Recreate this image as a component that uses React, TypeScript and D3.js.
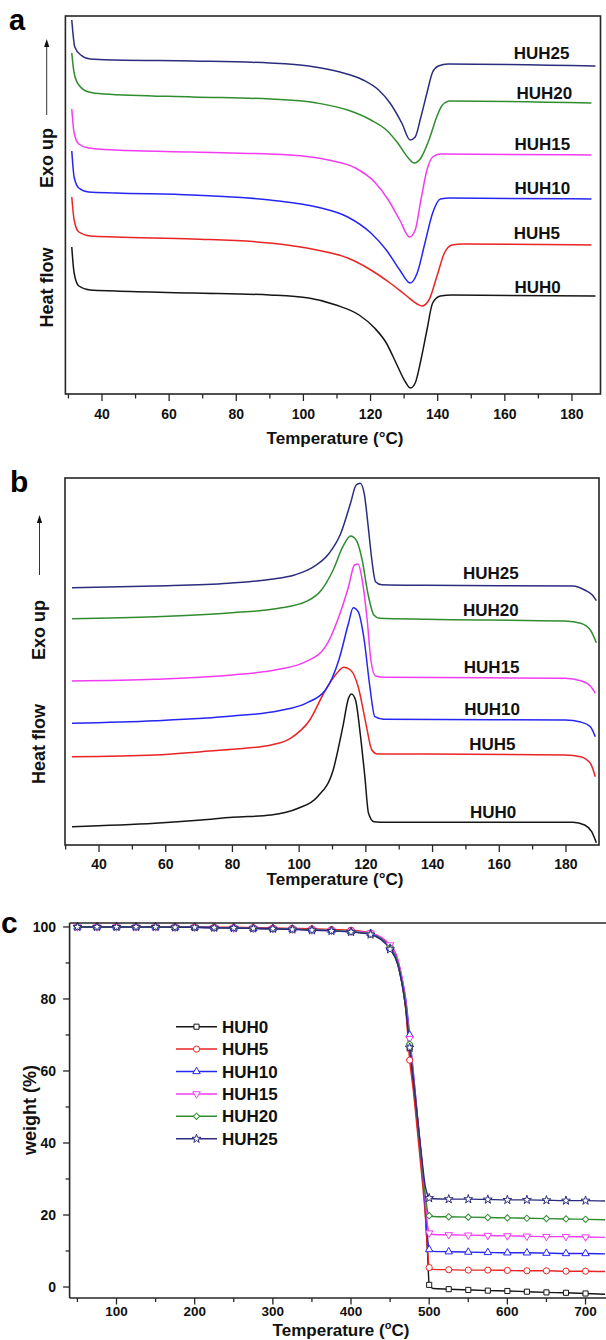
import React from "react";
import * as d3 from "d3";

const FONT = "'Liberation Sans', Arial, Helvetica, sans-serif";

// ---------- shared ----------
const seriesNames = ["HUH0", "HUH5", "HUH10", "HUH15", "HUH20", "HUH25"];
const COLORS = ["#161616", "#ea2424", "#2626f2", "#f23cf2", "#2f8c2f", "#2c2c7e"];

// ---------- panel a : DSC heating (melting), a.u. ----------
const meltT_HUH0 = [31, 31.7, 33.1, 36.5, 44, 67, 90, 101.6, 109.7, 116.6, 121.2, 124.7, 127.6, 130.4, 131.9, 133.3, 135, 136.8, 138.5, 140.8, 144.3, 187];
const meltHF_HUH0 = [147, 121, 108, 104, 103, 101, 99, 96, 89, 79, 66, 51, 31, 12, 6, 11, 34, 64, 91, 98, 99, 98];
const meltT_HUH5 = [31, 31.7, 33.1, 36.5, 44, 67, 90, 104, 113.2, 120.1, 125.8, 130.4, 133.9, 135.3, 137.4, 139.7, 142, 144.3, 147.7, 185.8];
const meltHF_HUH5 = [197, 174, 162, 158, 157, 155, 151, 144, 136, 124, 111, 99, 90, 88, 94, 117, 141, 149, 150, 149];
const meltT_HUH10 = [31, 31.7, 33.1, 36, 44, 67, 90, 104, 113.2, 120.1, 124.7, 128.7, 131.8, 133.9, 136.2, 138.5, 140.8, 143.7, 185.8];
const meltHF_HUH10 = [243, 217, 206, 202, 201, 199, 194, 187, 177, 161, 144, 124, 111, 121, 151, 181, 195, 196, 195];
const meltT_HUH15 = [31, 31.7, 33.1, 36, 44, 67, 95.9, 107.4, 115.5, 121.2, 125.3, 128.7, 131.6, 133.3, 135, 136.8, 138.5, 140.8, 185.8];
const meltHF_HUH15 = [285, 261, 250, 246, 244, 242, 239, 234, 226, 212, 194, 174, 157, 164, 194, 224, 237, 240, 239];
const meltT_HUH20 = [31, 31.7, 33.1, 36, 40.6, 67, 90, 104, 113.2, 120.1, 124.7, 128.1, 131, 133, 135, 137.4, 139.7, 141.4, 143.7, 185.8];
const meltHF_HUH20 = [341, 321, 309, 302, 300, 297, 295, 291, 284, 274, 264, 251, 237, 231, 236, 254, 277, 289, 293, 291];
const meltT_HUH25 = [31.0, 31.9, 33.7, 36.5, 44, 67, 90, 101.6, 110.9, 117.8, 122.4, 125.8, 129.3, 131.8, 133.3, 135.0, 136.8, 138.5, 140.2, 143.1, 187];
const meltHF_HUH25 = [374, 347, 339, 335, 334, 333, 331, 328, 322, 314, 304, 291, 271, 254, 257, 277, 301, 322, 328, 330, 328];

// ---------- panel b : DSC cooling (crystallisation), a.u. ----------
const crysT_HUH0 = [31.9, 56.8, 70.7, 80, 91.6, 99.7, 105.5, 110.2, 113.1, 114.8, 115.7, 116.9, 118.3, 119.7, 120.8, 122.4, 126.4, 182.1, 185.6, 187.7, 189.1];
const crysHF_HUH0 = [18.3, 21.7, 25, 27.7, 30, 36.7, 48.3, 75, 118.3, 146.7, 151, 145, 111.7, 68.3, 31.7, 23.3, 22.7, 22.7, 20, 13.3, 2.3];
const crysT_HUH5 = [31.9, 56.8, 70.7, 80, 91.6, 97.4, 103.2, 107.9, 111.3, 113.4, 115.4, 117.7, 120, 121.8, 123.5, 138, 179.8, 184.4, 187.3, 188.8];
const crysHF_HUH5 = [88.3, 90, 93.3, 95.7, 100, 106.7, 125, 155, 171.7, 177.7, 175, 158.3, 121.7, 95, 91, 91, 90, 88.3, 81.7, 68.3];
const crysT_HUH10 = [31.9, 56.8, 80, 93.9, 102, 107.9, 111.9, 114.8, 116.2, 117.7, 119.5, 121.2, 122.7, 125.3, 179.8, 184.4, 187.3, 188.8];
const crysHF_HUH10 = [121.7, 124.3, 129, 134.3, 141.7, 155, 185, 221.7, 237.3, 233.3, 205, 158.3, 128.3, 125.7, 125, 123, 118.3, 108.3];
const crysT_HUH15 = [31.9, 56.8, 80, 93.9, 102, 107.9, 111.9, 114.8, 116.6, 117.7, 118.9, 120.4, 121.5, 122.9, 125.3, 179.8, 184.4, 187.3, 188.8];
const crysHF_HUH15 = [164, 165.7, 170, 175.7, 183.3, 198.3, 228.3, 258.3, 280, 281, 265, 225, 185, 169, 167.7, 166.7, 164.3, 159, 151.7];
const crysT_HUH20 = [31.9, 56.8, 80, 93.9, 102, 106.7, 110.2, 113.1, 115.4, 117.1, 118.9, 120.6, 122.4, 124.1, 138, 179.8, 184.4, 187.3, 189.1];
const crysHF_HUH20 = [226.3, 228.3, 232.3, 236.7, 243.3, 255, 275, 298.3, 309, 305, 285, 251.7, 230, 226.7, 225.7, 224, 221.7, 215, 202.3];
const crysT_HUH25 = [31.9, 56.8, 78.9, 91.6, 98.6, 104.4, 109, 112.5, 115.4, 117.1, 118.3, 119.5, 120.6, 121.8, 122.9, 124.7, 138, 182.1, 185.6, 187.9, 189.1];
const crysHF_HUH25 = [257.3, 259, 261.7, 265.7, 270, 278.3, 291.7, 311.7, 341.7, 360, 361.7, 351.7, 321.7, 285, 263.3, 260.3, 259.7, 259, 255, 250, 244.3];

// ---------- panel c : TGA weight (%) ----------
const tgaT = [50, 75, 100, 125, 150, 175, 200, 225, 250, 275, 300, 325, 350, 375, 400, 425, 450, 460, 465, 470, 475, 480, 485, 490, 495, 498, 500, 505, 525, 550, 575, 600, 625, 650, 675, 700, 725];
const tgaW_HUH0 = [100, 100, 100, 100, 100, 99.9, 99.9, 99.8, 99.7, 99.6, 99.5, 99.4, 99.2, 99.0, 98.7, 98.0, 94.0, 89.5, 84.5, 77.5, 66.5, 56, 45, 34, 21, 9, 0.6, -0.4, -0.6, -0.8, -1.0, -1.1, -1.3, -1.5, -1.6, -1.8, -2.0];
const tgaW_HUH5 = [100.1, 100.1, 100.1, 100.1, 100.1, 100, 100, 99.9, 99.9, 99.8, 99.7, 99.6, 99.5, 99.3, 99.1, 98.3, 94.5, 90, 85, 77, 63, 54, 43, 32, 20, 10, 5.4, 4.9, 4.8, 4.7, 4.7, 4.6, 4.5, 4.5, 4.4, 4.4, 4.3];
const tgaW_HUH10 = [100, 100, 100, 100, 100, 99.9, 99.9, 99.8, 99.7, 99.6, 99.5, 99.4, 99.2, 99.0, 98.7, 98.2, 94.2, 90.5, 86, 80, 70, 59, 47.5, 36, 23, 13.5, 10.4, 9.9, 9.8, 9.7, 9.6, 9.5, 9.5, 9.4, 9.3, 9.3, 9.2];
const tgaW_HUH15 = [100, 100, 100, 100, 100, 99.9, 99.9, 99.8, 99.7, 99.6, 99.5, 99.4, 99.2, 99.0, 98.8, 98.3, 95.0, 91, 86, 79.5, 69, 58.5, 47, 36, 24, 17, 15.0, 14.6, 14.5, 14.4, 14.3, 14.2, 14.1, 14.0, 14.0, 13.9, 13.8];
const tgaW_HUH20 = [100, 100, 100, 100, 100, 99.9, 99.9, 99.8, 99.7, 99.6, 99.5, 99.4, 99.2, 99.0, 98.7, 98.0, 94.3, 90, 85, 78.5, 67.5, 57.5, 46.5, 36, 25.5, 21, 19.8, 19.6, 19.5, 19.4, 19.3, 19.2, 19.1, 19.0, 18.9, 18.8, 18.7];
const tgaW_HUH25 = [100, 100, 100, 100, 100, 99.9, 99.9, 99.8, 99.7, 99.6, 99.5, 99.3, 99.1, 98.9, 98.6, 97.9, 93.8, 89.5, 84.5, 77.5, 66.5, 57, 47, 37, 28, 25.5, 24.7, 24.5, 24.4, 24.4, 24.3, 24.2, 24.2, 24.1, 24.0, 24.0, 23.9];

// tick values
const dscMinorTicks = [30, 40, 50, 60, 70, 80, 90, 100, 110, 120, 130, 140, 150, 160, 170, 180];
const dscTickLabels = [40, 60, 80, 100, 120, 140, 160, 180];
const tgaXTicks = [100, 200, 300, 400, 500, 600, 700];
const tgaXMinor = [50, 150, 250, 350, 450, 550, 650];
const tgaYTicks = [0, 20, 40, 60, 80, 100];
const tgaYMinor = [10, 30, 50, 70, 90];

const meltT = [meltT_HUH0, meltT_HUH5, meltT_HUH10, meltT_HUH15, meltT_HUH20, meltT_HUH25];
const meltHF = [meltHF_HUH0, meltHF_HUH5, meltHF_HUH10, meltHF_HUH15, meltHF_HUH20, meltHF_HUH25];
const crysT = [crysT_HUH0, crysT_HUH5, crysT_HUH10, crysT_HUH15, crysT_HUH20, crysT_HUH25];
const crysHF = [crysHF_HUH0, crysHF_HUH5, crysHF_HUH10, crysHF_HUH15, crysHF_HUH20, crysHF_HUH25];
const tgaW = [tgaW_HUH0, tgaW_HUH5, tgaW_HUH10, tgaW_HUH15, tgaW_HUH20, tgaW_HUH25];

const FRAME = "#262626";
const TXT = "#111";

type DSCProps = {
  xDom: [number, number];
  xRng: [number, number];
  yDom: [number, number];
  yRng: [number, number];
  Ts: number[][];
  HFs: number[][];
  labels: [number, number][];
  tickY: number;
  titleY: number;
  letter: string;
  letterPos: [number, number, number];
  yLabX: number;
  exoY: number;
  heatY: number;
  arrow: [number, number, number];
};

function DSCPanel(p: DSCProps) {
  const x = d3.scaleLinear().domain(p.xDom).range(p.xRng);
  const y = d3.scaleLinear().domain(p.yDom).range(p.yRng);
  const line = d3
    .line<[number, number]>()
    .x((d) => x(d[0]))
    .y((d) => y(d[1]))
    .curve(d3.curveMonotoneX);
  const top = p.yRng[1];
  const bot = p.yRng[0];
  const [ax, ay0, ay1] = p.arrow;
  return (
    <g>
      {p.Ts.map((ts, i) => (
        <path
          key={i}
          d={line(ts.map((t, j) => [t, p.HFs[i][j]] as [number, number])) || ""}
          fill="none"
          stroke={COLORS[i]}
          strokeWidth={1.5}
          strokeLinejoin="round"
        />
      ))}
      <rect x={p.xRng[0]} y={top} width={p.xRng[1] - p.xRng[0]} height={bot - top} fill="none" stroke={FRAME} strokeWidth={1.6} />
      {dscMinorTicks.map((t) => (
        <line key={t} x1={x(t)} x2={x(t)} y1={bot} y2={bot + (t % 20 === 0 ? 7 : 4.5)} stroke={FRAME} strokeWidth={1.3} />
      ))}
      {dscTickLabels.map((t) => (
        <text key={t} x={x(t)} y={p.tickY} textAnchor="middle" fontSize={14} fontWeight="bold" fill={TXT}>
          {t}
        </text>
      ))}
      <text x={335} y={p.titleY} textAnchor="middle" fontSize={17} fontWeight="bold" fill={TXT}>
        Temperature (°C)
      </text>
      {p.labels.map((l, i) => (
        <text key={i} x={l[0]} y={l[1] + 6} fontSize={17} fontWeight="bold" fill={TXT}>
          {seriesNames[i]}
        </text>
      ))}
      <text x={p.letterPos[0]} y={p.letterPos[1]} fontSize={p.letterPos[2]} fontWeight="bold" fill="#000">
        {p.letter}
      </text>
      <text transform={`translate(${p.yLabX + 6.5},${p.exoY}) rotate(-90)`} textAnchor="middle" fontSize={18} fontWeight="bold" fill={TXT}>
        Exo up
      </text>
      <text transform={`translate(${p.yLabX + 6.5},${p.heatY}) rotate(-90)`} textAnchor="middle" fontSize={18} fontWeight="bold" fill={TXT}>
        Heat flow
      </text>
      <line x1={ax} x2={ax} y1={ay1} y2={ay0 + 6} stroke="#333" strokeWidth={1} />
      <path d={`M${ax},${ay0} L${ax - 2.6},${ay0 + 8} L${ax + 2.6},${ay0 + 8} Z`} fill="#111" />
    </g>
  );
}

const symTypes = [d3.symbolSquare, d3.symbolCircle, d3.symbolTriangle, d3.symbolTriangle, d3.symbolSquare, d3.symbolStar];
const symRot = [0, 0, 0, 180, 45, 0];
const symSize = [26, 30, 24, 24, 20, 24];

function Marker({ i, cx, cy }: { i: number; cx: number; cy: number }) {
  const d = d3.symbol().type(symTypes[i]).size(symSize[i])() || "";
  return (
    <path
      d={d}
      transform={`translate(${cx},${cy}) rotate(${symRot[i]})`}
      fill="#fff"
      stroke={COLORS[i]}
      strokeWidth={1}
    />
  );
}

function TGAPanel() {
  const x = d3.scaleLinear().domain([40, 740]).range([69.6, 616.8]);
  const y = d3.scaleLinear().domain([-3.05, 101.1]).range([1298, 923]);
  const line = d3
    .line<[number, number]>()
    .x((d) => x(d[0]))
    .y((d) => y(d[1]))
    .curve(d3.curveMonotoneX);
  const left = 69.6;
  const bot = 1298;
  const top = 923;
  return (
    <g>
      {tgaW.map((ws, i) => (
        <path
          key={"l" + i}
          d={line(tgaT.map((t, j) => [t, ws[j]] as [number, number])) || ""}
          fill="none"
          stroke={COLORS[i]}
          strokeWidth={1.4}
        />
      ))}
      {tgaW.map((ws, i) => (
        <g key={"m" + i}>
          {tgaT.map((t, j) =>
            t % 25 === 0 && t <= 700 ? <Marker key={j} i={i} cx={x(t)} cy={y(ws[j])} /> : null
          )}
        </g>
      ))}
      <line x1={left} x2={606} y1={top} y2={top} stroke={FRAME} strokeWidth={1.5} />
      <line x1={left} x2={left} y1={top} y2={bot} stroke={FRAME} strokeWidth={1.6} />
      <line x1={left} x2={606} y1={bot} y2={bot} stroke={FRAME} strokeWidth={1.6} />
      {tgaXTicks.map((t) => (
        <g key={t}>
          <line x1={x(t)} x2={x(t)} y1={bot} y2={bot + 6.5} stroke={FRAME} strokeWidth={1.3} />
          <text x={x(t)} y={1316} textAnchor="middle" fontSize={13.5} fontWeight="bold" fill={TXT}>
            {t}
          </text>
        </g>
      ))}
      {tgaXMinor.map((t) => (
        <line key={t} x1={x(t)} x2={x(t)} y1={bot} y2={bot + 4} stroke={FRAME} strokeWidth={1.3} />
      ))}
      {tgaYTicks.map((v) => (
        <g key={v}>
          <line x1={left - 6.5} x2={left} y1={y(v)} y2={y(v)} stroke={FRAME} strokeWidth={1.3} />
          <text x={56} y={y(v) + 5} textAnchor="end" fontSize={14} fontWeight="bold" fill={TXT}>
            {v}
          </text>
        </g>
      ))}
      {tgaYMinor.map((v) => (
        <line key={v} x1={left - 4} x2={left} y1={y(v)} y2={y(v)} stroke={FRAME} strokeWidth={1.3} />
      ))}
      <text x={341} y={1335.5} textAnchor="middle" fontSize={17} fontWeight="bold" fill={TXT}>
        Temperature (
        <tspan fontSize={11} dy={-7}>o</tspan>
        <tspan dy={7}>C)</tspan>
      </text>
      <text transform="translate(36,1110) rotate(-90)" textAnchor="middle" fontSize={18} fontWeight="bold" fill={TXT}>
        weight (%)
      </text>
      <text x={1} y={933} fontSize={30} fontWeight="bold" fill="#000">
        c
      </text>
      {seriesNames.map((n, i) => {
        const ly = 1026.7 + i * 22.4;
        return (
          <g key={n}>
            <line x1={176} x2={217} y1={ly} y2={ly} stroke={COLORS[i]} strokeWidth={1.5} />
            <Marker i={i} cx={196.5} cy={ly} />
            <text x={222} y={ly + 6} fontSize={17} fontWeight="bold" fill={TXT}>
              {n}
            </text>
          </g>
        );
      })}
    </g>
  );
}

export default function App() {
  return (
    <svg
      width={606}
      height={1340}
      viewBox="0 0 606 1340"
      style={{ position: "absolute", left: 0, top: 0, background: "#fff" }}
      fontFamily={FONT}
    >
      <rect x={0} y={0} width={606} height={1340} fill="#fff" />
      <DSCPanel
        xDom={[29.1, 188.5]}
        xRng={[65.4, 600.5]}
        yDom={[0, 378]}
        yRng={[394, 16]}
        Ts={meltT}
        HFs={meltHF}
        labels={[
          [514.5, 286.7],
          [513.7, 232.7],
          [514.5, 187.7],
          [514.5, 144.3],
          [516.4, 92.7],
          [513.7, 53.3],
        ]}
        tickY={419}
        titleY={444}
        letter="a"
        letterPos={[9, 30, 29]}
        yLabX={46.4}
        exoY={158}
        heatY={287.5}
        arrow={[46.7, 39, 115]}
      />
      <DSCPanel
        xDom={[29.8, 189.9]}
        xRng={[65, 599]}
        yDom={[0, 367]}
        yRng={[845, 478]}
        Ts={crysT}
        HFs={crysHF}
        labels={[
          [470, 811.7],
          [469.2, 744.3],
          [464.2, 709.3],
          [463.8, 666.7],
          [463, 610],
          [463, 573.3],
        ]}
        tickY={869}
        titleY={885}
        letter="b"
        letterPos={[10, 492, 30]}
        yLabX={38.7}
        exoY={630}
        heatY={744}
        arrow={[39.5, 515, 575]}
      />
      <TGAPanel />
    </svg>
  );
}
